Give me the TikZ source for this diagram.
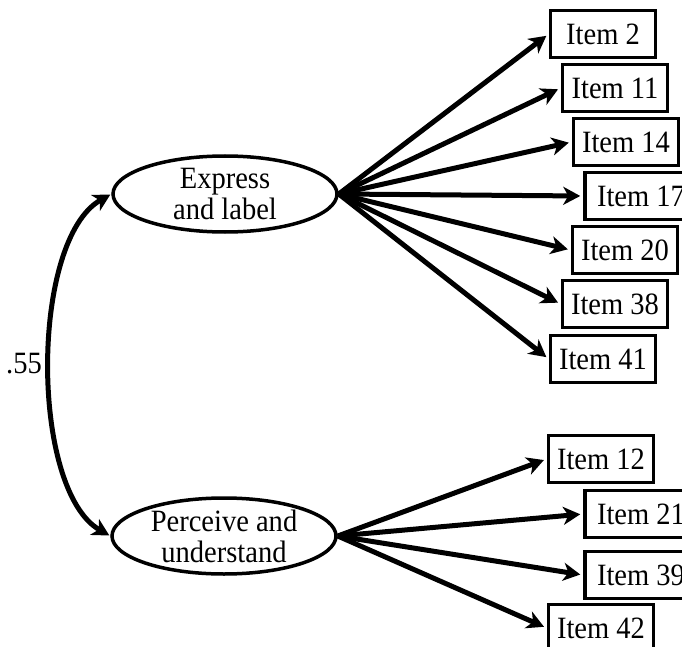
\documentclass[tikz,border=0pt]{standalone}
\usepackage{fontspec}
\setmainfont{Liberation Serif}[FakeStretch=0.92]
\usetikzlibrary{shapes.geometric,arrows.meta}
\begin{document}
\begin{tikzpicture}[x=1pt,y=-1pt,
  txt/.style={font=\fontsize{31}{31}\selectfont},
  factor/.style={ellipse,draw,line width=3.5pt,minimum width=224pt,minimum height=76pt,inner sep=0pt,align=center,txt},
  item/.style={rectangle,draw,line width=3.5pt,minimum width=105pt,minimum height=47pt,inner sep=0pt,txt},
  tip/.tip={Stealth[length=17pt,width=18pt,inset=5pt]},
  load/.style={line width=5pt,-tip,shorten >=3pt},
  cov/.style={line width=5pt,tip-tip,shorten >=1pt,shorten <=1pt}]
\useasboundingbox (0,0) rectangle (682,647);
\clip (0,0) rectangle (682,647);
\node[factor] (E) at (225,194) {Express\\and label};
\node[factor] (P) at (224,536) {Perceive and\\understand};
\node[item] (i2) at (603,34) {Item 2};
\node[item] (i11) at (615,88) {Item 11};
\node[item] (i14) at (626,142) {Item 14};
\node[item, minimum width=112pt] (i17) at (641,196) {Item 17};
\node[item] (i20) at (625,250) {Item 20};
\node[item] (i38) at (615,304) {Item 38};
\node[item] (i41) at (603,359) {Item 41};
\node[item] (i12) at (601,459) {Item 12};
\node[item, minimum width=112pt] (i21) at (641,514) {Item 21};
\node[item, minimum width=112pt] (i39) at (641,575) {Item 39};
\node[item] (i42) at (601,628) {Item 42};
\foreach \t in {i2,i11,i14,i17,i20,i38,i41} \draw[load] (E.east) -- (\t.west);
\foreach \t in {i12,i21,i39,i42} \draw[load] (P.east) -- (\t.west);
\draw[cov] (E.west) .. controls (30,240) and (30,490) .. (P.west);
\node[txt] (r) at (24,364) {.55};
\end{tikzpicture}
\end{document}
